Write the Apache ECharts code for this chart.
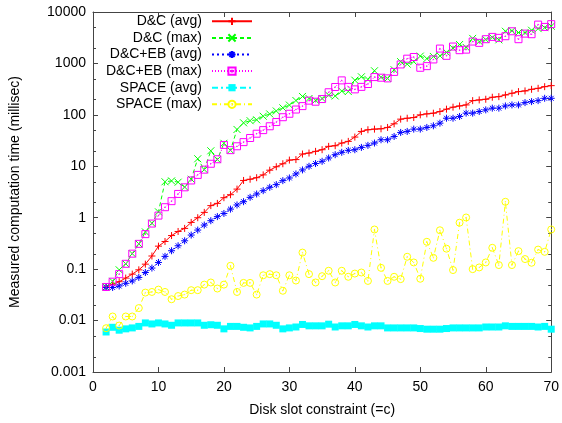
<!DOCTYPE html>
<html>
<head>
<meta charset="utf-8">
<script src="https://cdn.jsdelivr.net/npm/echarts@6/dist/echarts.min.js"></script>
<style>
html,body{margin:0;padding:0;background:#fff;}
#chart{width:562px;height:423px;}
</style>
</head>
<body>
<div id="chart"></div>
<script>
// Disk slot constraint values (x)
const slots = [2,3,4,5,6,7,8,9,10,11,12,13,14,15,16,17,18,19,20,21,22,23,24,25,26,27,28,29,30,31,32,33,34,35,36,37,38,39,40,41,42,43,44,45,46,47,48,49,50,51,52,53,54,55,56,57,58,59,60,61,62,63,64,65,66,67,68,69,70];

const dcAvg = [0.045,0.051,0.057,0.067,0.080,0.097,0.125,0.18,0.28,0.345,0.45,0.54,0.62,0.81,1.0,1.27,1.72,1.9,2.45,2.8,3.6,5.3,5.6,6.0,6.8,8.4,9.8,11.2,13.2,13.5,17.3,18.1,19.5,21,24.4,25.1,28.3,30.5,37,47.6,51.3,52.8,53.5,56.9,67,82.5,86,88.7,100,104.5,107.7,116,129,141,149,156,189,195,201,220,226,244,263,283,292,314,328,353,370];

const dcMax = [0.045,0.058,0.097,0.127,0.20,0.31,0.53,0.78,1.3,5.0,5.2,4.9,3.95,5.6,14,8.6,20,13.5,28,20.5,52,70,77,80,94,104,119,137,155,190,228,208,192,208,242,233,290,284,472,550,489,720,538,512,753,1083,968,1083,1387,1240,1365,1405,1640,1980,2330,2050,3070,2665,2910,3210,2875,4220,4320,3980,3980,4420,4750,4970,5280];

const ebAvg = [0.044,0.044,0.047,0.053,0.059,0.069,0.086,0.105,0.135,0.177,0.228,0.285,0.356,0.46,0.575,0.72,0.875,1.05,1.21,1.47,1.77,2.05,2.49,2.89,3.36,3.9,4.4,5.26,5.93,7.1,8.5,10,11.3,12.5,14.5,16.8,18.7,20.4,21,23.3,25.5,28.3,32.8,32.8,38,45.5,47.6,52.8,52.8,56.9,61.3,69,86,86,93,108,108,116,125,135,135,149,156,156,173,181,189,210,210];

const ebMax = [0.045,0.057,0.08,0.127,0.20,0.31,0.48,0.77,1.1,1.6,2.1,2.9,3.9,5.3,6.8,8.6,11.2,13.7,26,20.6,24.5,29.5,35.5,43,50.5,60,72.5,90,105,127,148,189,180,203,275,348,468,350,313,350,398,543,528,512,684,955,1237,1333,824,886,1195,1945,1405,2130,1810,1855,2665,2510,2960,3280,3140,3380,4220,2960,3800,3700,5690,5130,5800];

const spaceAvg = [0.0060,0.0074,0.0065,0.0069,0.0072,0.0077,0.0090,0.0086,0.0090,0.0086,0.0081,0.0090,0.0090,0.0090,0.0090,0.0081,0.0083,0.0081,0.0069,0.0077,0.0077,0.0074,0.0072,0.0077,0.0086,0.0086,0.0081,0.0069,0.0072,0.0075,0.0084,0.0079,0.0079,0.0079,0.0085,0.0075,0.0079,0.0079,0.0084,0.0079,0.0075,0.0079,0.0079,0.0072,0.0072,0.0072,0.0072,0.0072,0.0070,0.0068,0.0068,0.0068,0.0070,0.0072,0.0072,0.0072,0.0072,0.0072,0.0075,0.0075,0.0075,0.0079,0.0077,0.0077,0.0077,0.0077,0.0075,0.0077,0.0068];

const spaceMax = [0.0071,0.012,0.008,0.012,0.012,0.0175,0.035,0.036,0.040,0.036,0.026,0.030,0.032,0.039,0.039,0.050,0.055,0.042,0.050,0.116,0.036,0.054,0.054,0.032,0.076,0.080,0.076,0.038,0.076,0.060,0.21,0.080,0.055,0.073,0.093,0.055,0.093,0.071,0.082,0.086,0.059,0.59,0.106,0.059,0.071,0.064,0.174,0.135,0.065,0.34,0.166,0.57,0.25,0.096,0.80,1.01,0.10,0.108,0.135,0.26,0.12,2.04,0.12,0.224,0.157,0.133,0.24,0.217,0.59];

const seriesNames = ['D&C (avg)','D&C (max)','D&C+EB (avg)','D&C+EB (max)','SPACE (avg)','SPACE (max)'];

const xTickLabels = ['0','10','20','30','40','50','60','70'];
const yTickLabels = ['0.001','0.01','0.1','1','10','100','1000','10000'];
const yMinorTicks = [0.002,0.005,0.02,0.05,0.2,0.5,2,5,20,50,200,500,2000,5000];

const X_MIN = 0, X_MAX = 70, Y_MIN = 0.001, Y_MAX = 10000;
const FONT = 'Liberation Sans, Arial, Helvetica, sans-serif';
const AXIS_COLOR = '#444';

function pairs(vals){ return slots.map((c,i)=>[c, vals[i]]); }

const SYM_PLUS = 'path://M0,5L10,5M5,0L5,10';
const SYM_CROSS = 'path://M0,0L10,10M10,0L0,10';
const SYM_STAR = 'path://M0,5L10,5M5,0L5,10M1.5,1.5L8.5,8.5M8.5,1.5L1.5,8.5';
const SYM_BOXDOT = 'path://M0,0L10,0L10,10L0,10Z M4.6,4.6L5.4,4.6L5.4,5.4L4.6,5.4Z';
const SYM_CIRCDOT = 'path://M0,5A5,5,0,1,1,10,5A5,5,0,1,1,0,5Z M4.6,5A0.4,0.4,0,1,1,5.4,5A0.4,0.4,0,1,1,4.6,5Z';

function lineSeries(name, vals, color, symbol, dash, filled) {
  return {
    name: name,
    type: 'line',
    xAxisIndex: 0, yAxisIndex: 0,
    data: pairs(vals),
    symbol: symbol,
    symbolSize: 7,
    showAllSymbol: true,
    color: color,
    lineStyle: { color: color, width: 1, type: dash },
    itemStyle: filled ? { color: color, borderWidth: 0 } : { color: 'none', borderColor: color, borderWidth: 1 },
    emphasis: { disabled: true },
    animation: false
  };
}

const chart = echarts.init(document.getElementById('chart'), null, { renderer: 'canvas' });

const axisCommon = {
  axisLine: { show: true, onZero: false, lineStyle: { color: AXIS_COLOR, width: 1 } },
  splitLine: { show: false },
  minorTick: { show: false }
};

chart.setOption({
  animation: false,
  textStyle: { fontFamily: FONT },
  grid: { left: 92, right: 9, top: 12, bottom: 51, containLabel: false },
  legend: {
    orient: 'vertical',
    align: 'right',
    right: 309,
    top: 13,
    padding: 0,
    itemGap: 0,
    itemWidth: 40,
    itemHeight: 9,
    selectedMode: false,
    data: seriesNames,
    textStyle: { fontSize: 14, color: '#000', fontFamily: FONT, lineHeight: 16.6, padding: [0, 5, 0, 0] }
  },
  xAxis: [
    Object.assign({
      type: 'value', min: X_MIN, max: X_MAX, interval: 10, position: 'bottom',
      axisTick: { show: true, inside: true, length: 5, lineStyle: { color: AXIS_COLOR } },
      axisLabel: { show: true, margin: 8, fontSize: 14, color: '#000', fontFamily: FONT,
        formatter: function(v){ return xTickLabels[Math.round(v / 10)]; } },
      name: 'Disk slot constraint (=c)', nameLocation: 'middle', nameGap: 31,
      nameTextStyle: { fontSize: 14, color: '#000', fontFamily: FONT }
    }, axisCommon),
    Object.assign({
      type: 'value', min: X_MIN, max: X_MAX, interval: 10, position: 'top',
      axisTick: { show: true, inside: true, length: 5, lineStyle: { color: AXIS_COLOR } },
      axisLabel: { show: false }
    }, axisCommon)
  ],
  yAxis: [
    Object.assign({
      type: 'log', logBase: 10, min: Y_MIN, max: Y_MAX, position: 'left',
      axisTick: { show: true, inside: true, length: 5, lineStyle: { color: AXIS_COLOR } },
      axisLabel: { show: true, margin: 7, fontSize: 14, color: '#000', fontFamily: FONT,
        formatter: function(v){ return yTickLabels[Math.round(Math.log10(v)) + 3]; } },
      name: 'Measured computation time (millisec)', nameLocation: 'middle', nameGap: 71,
      nameTextStyle: { fontSize: 14, color: '#000', fontFamily: FONT }
    }, axisCommon),
    Object.assign({
      type: 'log', logBase: 10, min: Y_MIN, max: Y_MAX, position: 'right',
      axisTick: { show: true, inside: true, length: 5, lineStyle: { color: AXIS_COLOR } },
      axisLabel: { show: false }
    }, axisCommon)
  ],
  series: [
    {
      type: 'custom',
      name: 'minor-ticks',
      xAxisIndex: 0, yAxisIndex: 0,
      silent: true,
      clip: false,
      encode: { x: 0, y: 1 },
      data: yMinorTicks.map(v => [X_MIN, v]),
      renderItem: function(params, api) {
        const v = api.value(1);
        const l = api.coord([X_MIN, v]);
        const r = api.coord([X_MAX, v]);
        const y = Math.round(l[1]) + 0.5;
        return {
          type: 'group',
          children: [
            { type: 'line', shape: { x1: l[0], y1: y, x2: l[0] + 3, y2: y }, style: { stroke: AXIS_COLOR, lineWidth: 1 } },
            { type: 'line', shape: { x1: r[0] - 3, y1: y, x2: r[0], y2: y }, style: { stroke: AXIS_COLOR, lineWidth: 1 } }
          ]
        };
      }
    },
    lineSeries(seriesNames[0], dcAvg, '#ff0000', SYM_PLUS, 'solid', false),
    lineSeries(seriesNames[1], dcMax, '#00ff00', SYM_CROSS, [4, 3], false),
    lineSeries(seriesNames[2], ebAvg, '#0000ff', SYM_STAR, [2, 3], false),
    lineSeries(seriesNames[3], ebMax, '#ff00ff', SYM_BOXDOT, [1, 2], false),
    lineSeries(seriesNames[4], spaceAvg, '#00ffff', 'rect', [6, 3, 2, 3], true),
    lineSeries(seriesNames[5], spaceMax, '#ffff00', SYM_CIRCDOT, [5, 3, 1, 3], false)
  ]
});
</script>
</body>
</html>
